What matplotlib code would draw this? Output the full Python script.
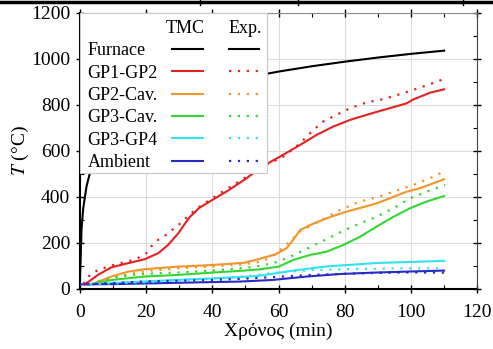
import matplotlib
matplotlib.use("Agg")
import matplotlib.pyplot as plt
from matplotlib.lines import Line2D
from matplotlib.offsetbox import HPacker, DrawingArea
from matplotlib.ticker import MultipleLocator

plt.rcParams['font.family'] = ['Liberation Serif', 'DejaVu Serif']
plt.rcParams['mathtext.fontset'] = 'stix'

# --- data (time in min, temperature in degC) ---
furnace_t = [0, 0.5, 1, 2, 3, 5, 7, 10, 15, 20, 30, 40, 50, 60, 70, 80, 90, 100, 110]
furnace_T = [20, 261, 349, 445, 502, 576, 626, 678, 739, 781, 842, 885, 918, 945, 968, 988, 1006, 1022, 1036]

gp12_t = [1.4, 3, 5.4, 9.5, 14.5, 19.5, 23.6, 26.6, 29.6, 33, 36, 40, 45, 50, 55, 60, 66.5, 71.5,
          76.5, 81.6, 86.6, 91.6, 98.7, 100.7, 105.7, 110]
gp12_T = [20, 35, 61, 94, 112, 129, 155, 191, 240, 310, 352, 387, 430, 478, 532, 572, 626, 670,
          706, 735, 757, 778, 807, 824, 853, 868]
gp12_exp_t = [1, 3, 5.5, 8, 11, 14, 17, 20, 21.5, 23.6, 26, 28, 30.5, 33, 36, 40, 45, 50, 54,
              57.4, 61.4, 66.5, 70, 73.5, 77.5, 81.6, 86.6, 91.6, 97.6, 103.7, 109.3]
gp12_exp_T = [22, 61, 83, 95, 108, 118, 130, 155, 184, 213, 235, 258, 287, 322, 356, 395, 440, 485, 525,
              547, 575, 633, 684, 728, 757, 786, 811, 825, 851, 880, 909]

gp2c_t = [3, 4.4, 9.5, 14.5, 19.5, 29.6, 39.7, 49.7, 54, 59, 62.4, 64.4, 66.5, 69.5, 74.5, 79.5,
          89.6, 98.7, 102.7, 110]
gp2c_T = [20, 25, 54, 75, 86, 97, 104, 114, 130, 150, 177, 213, 256, 278, 307, 332,
          372, 423, 438, 477]
gp2c_exp_t = [3, 6, 10, 15, 20, 30, 40, 50, 55, 58, 61.4, 64, 66.5, 70, 75, 78.5, 84.6, 90, 94.7,
              100.7, 106.8, 110.3]
gp2c_exp_T = [20, 30, 48, 65, 78, 90, 98, 108, 120, 140, 181, 215, 250, 278, 315, 343, 380, 400, 423,
              452, 488, 513]

gp3c_t = [3, 9.5, 19.5, 29.6, 39.7, 49.7, 54, 60, 64.4, 69.5, 74.5, 79.5, 84.6, 89.6, 94.7, 99.7,
          104.7, 110]
gp3c_T = [20, 39, 54, 61, 71, 80, 85, 97, 126, 148, 162, 191, 227, 271, 314, 351, 380, 404]
gp3c_exp_t = [3, 6, 10, 15, 20, 30, 40, 50, 55, 60, 65, 70, 75, 80, 84.6, 89.6, 94.7, 99.7, 104.7, 110.3]
gp3c_exp_T = [20, 35, 50, 60, 66, 72, 80, 92, 102, 119, 150, 185, 220, 256, 285, 314, 351, 394, 423, 452]

gp34_t = [3, 10, 20, 30, 40, 50, 54, 64.4, 74.5, 89.6, 110]
gp34_T = [20, 26, 33, 40, 46, 53, 57, 80, 98, 113, 122]
gp34_exp_t = [3, 10, 20, 30, 40, 50, 60, 70, 80, 90, 100, 110]
gp34_exp_T = [20, 24, 30, 38, 45, 55, 72, 82, 86, 88, 90, 89]

amb_t = [0, 10, 20, 30, 40, 48, 58, 68.5, 78.5, 88.6, 100, 110]
amb_T = [20, 21, 24, 27, 30, 32, 39, 54, 65, 71, 76, 80]
amb_exp_t = [2, 10, 20, 30, 40, 50, 60, 70, 80, 90, 100, 110]
amb_exp_T = [20, 26, 33, 36, 39, 45, 53, 61, 66, 70, 72, 71]

names = ['Furnace', 'GP1-GP2', 'GP2-Cav.', 'GP3-Cav.', 'GP3-GP4', 'Ambient']
colors = ['black', '#e52222', '#f39428', '#33d633', '#33e2ef', '#2a2ac4']

tmc = [(furnace_t, furnace_T), (gp12_t, gp12_T), (gp2c_t, gp2c_T),
       (gp3c_t, gp3c_T), (gp34_t, gp34_T), (amb_t, amb_T)]
exp = [None, (gp12_exp_t, gp12_exp_T), (gp2c_exp_t, gp2c_exp_T),
       (gp3c_exp_t, gp3c_exp_T), (gp34_exp_t, gp34_exp_T), (amb_exp_t, amb_exp_T)]

fig = plt.figure(figsize=(4.93, 3.49), dpi=100)
ax = fig.add_axes([0.162, 0.172, 0.806, 0.791])

dots = (0, (1, 3))
tmc_lines, exp_lines = [], []
for (t, T), c in zip(tmc, colors):
    ln, = ax.plot(t, T, color=c, lw=1.5, zorder=3)
    tmc_lines.append(ln)
for e, c, tl in zip(exp, colors, tmc_lines):
    if e is None:
        # furnace: measured curve is the same as the model one
        exp_lines.append(tl)
        continue
    ln, = ax.plot(e[0], e[1], color=c, lw=1.6, ls=dots, zorder=3)
    exp_lines.append(ln)

ax.set_xlim(0, 120)
ax.set_ylim(0, 1200)
ax.xaxis.set_major_locator(MultipleLocator(20))
ax.xaxis.set_minor_locator(MultipleLocator(10))
ax.yaxis.set_major_locator(MultipleLocator(200))
ax.yaxis.set_minor_locator(MultipleLocator(100))
ax.grid(True, which='major', color='#dcdcdc', lw=0.8, zorder=0)
ax.tick_params(which='major', direction='inout', length=6, width=1, labelsize=14,
               top=True, right=True)
ax.tick_params(axis='x', which='major', pad=8)
ax.tick_params(axis='y', which='major', pad=4)
ax.tick_params(which='minor', direction='in', length=3, width=0.8, top=True, right=True)
for s in ['left', 'bottom']:
    ax.spines[s].set_linewidth(1.5)
ax.spines['top'].set_color('#8a8a8a')
ax.spines['right'].set_color('#404040')

ax.set_xlabel('Χρόνος (min)', fontsize=14, labelpad=1)
ax.set_ylabel('$T$ (°C)', fontsize=14, labelpad=0)

blank = Line2D([], [], linestyle='none')
handles = [blank] + tmc_lines + [blank] + exp_lines
labels = [' '] + names + [' '] * 7
leg = ax.legend(handles, labels, ncol=2, markerfirst=False, loc='upper left',
                bbox_to_anchor=(0, 1), borderaxespad=0, fancybox=False,
                edgecolor='#c8c8c8', framealpha=1, fontsize=13,
                handlelength=1.7, handletextpad=0.9, columnspacing=0.2,
                labelspacing=0.3, borderpad=0.1)
leg.set_zorder(5)
leg.get_frame().set_linewidth(0.8)
# header row a bit taller
leg.get_texts()[0].set_fontsize(18)
leg.get_texts()[7].set_fontsize(18)
# labels left-aligned, handles pushed to the right end of each row,
# plus some side padding inside the frame
cols = leg._legend_handle_box.get_children()
cols[0].align = 'left'
for i, row in enumerate(cols[0]._children):
    row.mode = 'expand'
    row.width = 115
    cols[0]._children[i] = HPacker(pad=0, sep=0, children=[DrawingArea(4.3, 0), row])
for i, row in enumerate(cols[1]._children):
    cols[1]._children[i] = HPacker(pad=0, sep=0, children=[row, DrawingArea(4.3, 0)])

ax.text(0.264, 0.942, 'TMC', ha='center', va='center', fontsize=13,
        transform=ax.transAxes, zorder=6)
ax.text(0.416, 0.942, 'Exp.', ha='center', va='center', fontsize=13,
        transform=ax.transAxes, zorder=6)

# remnant of the page frame above the chart
fig.add_artist(Line2D([0, 1], [0.995, 0.995], transform=fig.transFigure, color='black', lw=2.5))
for xp in [200, 298, 463]:
    fig.add_artist(Line2D([xp / 493, xp / 493], [1, 0.985], transform=fig.transFigure,
                          color='black', lw=1))

fig.savefig('out.png', dpi=100)
